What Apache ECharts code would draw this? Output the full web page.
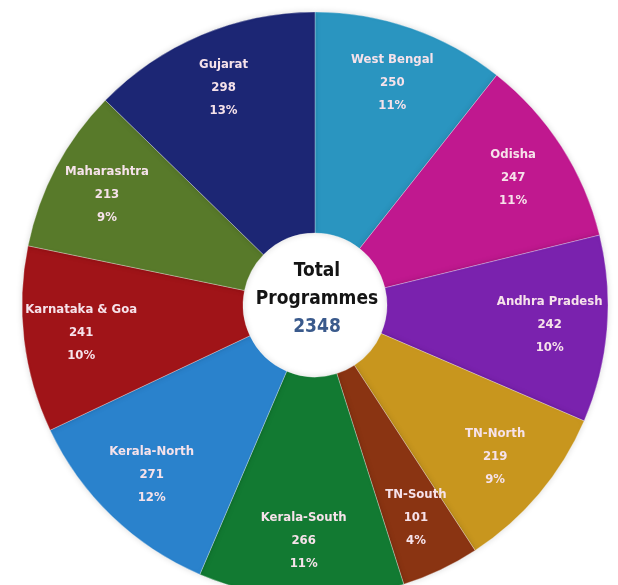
<!DOCTYPE html>
<html>
<head>
<meta charset="utf-8">
<script src="https://cdn.jsdelivr.net/npm/echarts@6/dist/echarts.min.js"></script>
<style>
html,body{margin:0;padding:0;background:#fff;}
#chart{width:618px;height:585px;}
</style>
</head>
<body>
<div id="chart"></div>
<script>
const categories = ['West Bengal','Odisha','Andhra Pradesh','TN-North','TN-South','Kerala-South','Kerala-North','Karnataka & Goa','Maharashtra','Gujarat'];
const values = [250,247,242,219,101,266,271,241,213,298];
const percentLabels = ['11%','11%','10%','9%','4%','11%','12%','10%','9%','13%'];
const colors = ['#2a95c0','#c0188f','#7a22ae','#c8961e','#8a3412','#127a32','#2a82cc','#a01418','#587a2a','#1c2674'];
const totalLabel = 2348;

const chart = echarts.init(document.getElementById('chart'));
const cx = 315, cy = 305, R = 293;
const pieData = categories.map((c,i)=>({name:c,value:values[i],itemStyle:{color:colors[i]}}));
const labelData = categories.map((c,i)=>({name:c,value:values[i]}));

chart.setOption({
  animation:false,
  series:[
    {
      type:'pie',
      center:[cx,cy],
      radius:[72,R],
      startAngle:90,
      clockwise:true,
      silent:true,
      itemStyle:{borderColor:'rgba(255,255,255,0.3)',borderWidth:1,shadowBlur:6,shadowColor:'rgba(0,0,0,0.15)'},
      label:{show:false},
      labelLine:{show:false},
      data:pieData
    },
    {
      type:'pie',
      center:[cx,cy],
      radius:[172,R],
      startAngle:90,
      clockwise:true,
      silent:true,
      itemStyle:{color:'rgba(0,0,0,0)'},
      label:{
        show:true,
        position:'inside',
        formatter:p=>p.name+'\n'+p.value+'\n'+percentLabels[p.dataIndex],
        color:'#f6e2ea',
        fontFamily:'DejaVu Sans Condensed, DejaVu Sans, sans-serif',
        fontWeight:'bold',
        fontSize:13,
        lineHeight:23
      },
      labelLine:{show:false},
      data:labelData
    }
  ],
  graphic:[
    {type:'text',x:cx+2,y:cy+8,style:{text:'Total\nProgrammes',fill:'#141414',font:'bold 19px "DejaVu Sans Condensed", "DejaVu Sans", sans-serif',textAlign:'center',textVerticalAlign:'bottom',lineHeight:28}},
    {type:'text',x:cx+2,y:cy+22,style:{text:String(totalLabel),fill:'#3a5a8c',font:'bold 19px "DejaVu Sans Condensed", "DejaVu Sans", sans-serif',textAlign:'center',textVerticalAlign:'middle'}}
  ]
});
</script>
</body>
</html>
